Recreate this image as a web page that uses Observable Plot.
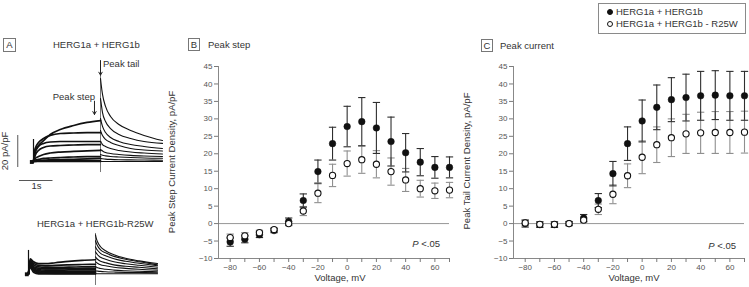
<!DOCTYPE html>
<html><head><meta charset="utf-8">
<script src="https://cdn.jsdelivr.net/npm/d3@7"></script>
<script src="https://cdn.jsdelivr.net/npm/@observablehq/plot@0.6"></script>
<style>
html,body{margin:0;padding:0;background:#fff;}
#c{position:relative;width:749px;height:287px;overflow:hidden;font-family:"Liberation Sans",Arial,sans-serif;color:#333;font-size:9.5px;}
.t{position:absolute;white-space:nowrap;line-height:1;}
.box{position:absolute;border:1px solid #777;box-sizing:border-box;text-align:center;font-size:9.5px;color:#333;}
.p{position:absolute;}
.p svg{overflow:visible;}
</style></head><body><div id="c"></div>
<script>
// ---------- data ----------
const voltages = [-80,-70,-60,-50,-40,-30,-20,-10,0,10,20,30,40,50,60,70];
const stepWT      = [-5.3,-4.5,-3.2,-2.0,0.6,6.6,14.9,22.9,27.8,29.2,27.4,23.5,20.3,17.6,16.1,16.1];
const stepWTerr   = [1.2,1.0,0.8,0.6,1.0,1.9,3.3,4.7,5.8,6.9,7.3,7.0,5.5,3.9,3.1,3.0];
const stepR25W    = [-4.0,-3.5,-2.6,-1.7,0.0,3.6,8.7,13.8,17.2,18.3,17.0,14.9,12.5,10.0,9.4,9.6];
const stepR25Werr = [1.0,0.9,0.7,0.5,0.6,1.3,2.7,3.2,3.6,3.9,3.9,3.9,3.3,2.4,2.2,2.2];
const tailWT      = [0.0,-0.3,-0.3,0.0,1.6,6.6,14.3,22.9,29.4,33.3,35.5,36.1,36.6,36.8,36.6,36.6];
const tailWTerr   = [1.0,0.8,0.8,0.6,1.0,2.0,3.5,4.8,6.0,6.4,6.3,6.7,7.0,7.0,7.0,7.0];
const tailR25W    = [0.2,-0.2,-0.2,0.0,1.0,4.1,8.4,13.7,19.0,22.6,24.6,25.7,26.0,26.1,26.1,26.2];
const tailR25Werr = [0.8,0.7,0.7,0.5,0.6,1.5,2.7,3.4,4.7,5.1,5.4,5.6,5.9,6.0,6.0,6.0];
const yTicks = [-10,-5,0,5,10,15,20,25,30,35,40,45];
const xTicks = [-80,-70,-60,-50,-40,-30,-20,-10,0,10,20,30,40,50,60,70];

// current traces (pA/pF) sampled at these times (s)
const stepTimes = [0, 0.05, 0.15, 0.3, 0.5, 0.8, 1.2, 1.6, 2.0];
const tailTimes = [2.0, 2.02, 2.06, 2.15, 2.3, 2.55, 2.9, 3.3, 3.85];
const wtStep = [
  [0, 7, 10, 13, 16.9, 20, 22.5, 24.4, 25.6],
  [0, 8.1, 11.9, 14.4, 16.3, 17.5, 17.8, 18.1, 18.1],
  [0, 5.6, 9.4, 11.3, 12.2, 12.5, 12.5, 12.5, 12.5],
  [0, 3.8, 6.9, 8.8, 9.7, 10, 10.3, 10.6, 10.6],
  [0, 1.9, 3.1, 4.4, 5.3, 5.9, 6.3, 6.6, 6.9],
  [0, 0.9, 1.3, 1.9, 2.2, 2.5, 2.8, 3.1, 3.1],
  [0, 0.3, 0.5, 0.8, 1, 1.2, 1.4, 1.6, 1.9],
  [0, 0.1, 0.2, 0.3, 0.4, 0.5, 0.6, 0.6, 0.6],
  [0, 0, 0, 0, 0, 0, 0, 0, 0]
];
const wtTail = [
  [51.9, 48.1, 41.9, 34.4, 28.1, 23.1, 19.4, 16.3, 13.1],
  [39.4, 36.3, 30.6, 25, 20.6, 16.9, 14.4, 12.5, 11.3],
  [26.9, 25, 21.9, 18.1, 15, 12.5, 10.6, 9.4, 8.1],
  [19.4, 18.1, 16.3, 13.8, 11.9, 10, 8.1, 7.2, 6.6],
  [12.5, 11.9, 10.6, 9.4, 8.1, 6.9, 5.9, 5.3, 4.7],
  [7.5, 7.2, 6.6, 5.6, 5, 4.4, 3.8, 3.4, 3.1],
  [4.4, 4.2, 3.9, 3.5, 3.1, 2.8, 2.5, 2.2, 2],
  [1.9, 1.8, 1.7, 1.5, 1.3, 1.1, 1, 0.9, 0.8],
  [0, 0, 0, 0, 0, 0, 0, 0, 0]
];
const r25Step = [
  [0, 9.4, 7.5, 6.3, 6.3, 6.9, 7.8, 8.4, 8.8],
  [0, 8.5, 6.5, 5.3, 5.0, 5.3, 5.6, 5.8, 5.9],
  [0, 7.5, 5.5, 4.4, 4.0, 4.0, 4.2, 4.3, 4.4],
  [0, 7, 4.5, 3.5, 3.1, 3.1, 3.2, 3.3, 3.4],
  [0, 6.5, 3.8, 2.7, 2.3, 2.3, 2.4, 2.5, 2.5],
  [0, 6, 3, 2, 1.6, 1.5, 1.6, 1.6, 1.6],
  [0, 5.5, 2.4, 1.3, 1, 0.9, 0.9, 0.9, 0.9],
  [0, 5, 1.8, 0.7, 0.4, 0.3, 0.3, 0.3, 0.3],
  [0, 4, 1, 0, 0, 0, 0, 0, 0]
];
const r25Tail = [
  [24.4, 22.5, 20, 16.9, 14.4, 11.9, 9.7, 8.1, 6.4],
  [20.6, 19.4, 17.5, 15, 13.1, 10.9, 9.1, 7.5, 5.6],
  [16.9, 15.9, 14.7, 12.8, 11.3, 9.4, 7.8, 6.6, 5],
  [13.8, 13.1, 11.9, 10.3, 9.1, 7.5, 6.3, 5.3, 4.1],
  [10.6, 10, 9.1, 7.8, 6.9, 5.6, 4.7, 4.1, 3.1],
  [7.5, 7.2, 6.6, 5.6, 5, 4.1, 3.4, 2.8, 2.2],
  [4.4, 4.2, 3.8, 3.3, 2.8, 2.3, 1.9, 1.6, 1.3],
  [1.9, 1.8, 1.7, 1.5, 1.3, 1.1, 0.9, 0.8, 0.6],
  [0, 0, 0, 0, 0, 0, 0, 0, 0]
];

// ---------- helpers ----------
const C = document.getElementById("c");
const FONT = '"Liberation Sans", Arial, sans-serif';
function txt(html, x, y, {anchor = "start", size = 9.5, rotate = 0, color = "#333"} = {}) {
  const d = document.createElement("div");
  d.className = "t";
  d.innerHTML = html;
  d.style.left = x + "px"; d.style.top = y + "px";
  d.style.fontSize = size + "px"; d.style.color = color;
  const tx = anchor === "start" ? "0" : anchor === "end" ? "-100%" : "-50%";
  d.style.transformOrigin = "0 0";
  d.style.transform = `rotate(${rotate}deg) translate(${tx},-50%)`;
  C.appendChild(d);
}
function box(label, x, y, w, h) {
  const d = document.createElement("div");
  d.className = "box";
  d.textContent = label;
  Object.assign(d.style, {left: x + "px", top: y + "px", width: w + "px", height: h + "px", lineHeight: (h - 2) + "px"});
  C.appendChild(d);
}
function place(svg, x, y) {
  const d = document.createElement("div");
  d.className = "p"; d.style.left = x + "px"; d.style.top = y + "px";
  d.appendChild(svg); C.appendChild(d);
}
function traceRows(steps, tails) {
  const s = [], t = [];
  steps.forEach((arr, i) => arr.forEach((v, j) => s.push({k: i, t: stepTimes[j], v})));
  tails.forEach((arr, i) => arr.forEach((v, j) => t.push({k: i, t: tailTimes[j], v})));
  return {s, t};
}

// ---------- panel A ----------
function tracePlot(steps, tails, {width, height, xDomain, yDomain, extra}) {
  const {s, t} = traceRows(steps, tails);
  return Plot.plot({
    width, height, margin: 0,
    x: {domain: xDomain, axis: null},
    y: {domain: yDomain, axis: null},
    style: {background: "transparent", overflow: "visible"},
    marks: [
      ...extra,
      Plot.line(s, {x: "t", y: "v", z: "k", stroke: "#111", strokeWidth: 1.7, curve: "monotone-x"}),
      Plot.line(t, {x: "t", y: "v", z: "k", stroke: "#111", strokeWidth: 1.1, curve: "monotone-x"})
    ]
  });
}

const aTop = tracePlot(wtStep, wtTail, {
  width: 170, height: 145,
  xDomain: [-33 / 33.5, 137 / 33.5],
  yDomain: [-21.25, 69.375],
  extra: [
    Plot.ruleX([2], {y1: -6.9, y2: 63, stroke: "#555", strokeWidth: 0.8}),
    Plot.ruleX([0], {y1: -1, y2: 13.75, stroke: "#111", strokeWidth: 1.2}),
    Plot.dot([0], {x: d => d - 0.05, y: () => -0.3, symbol: "square", r: 2.2, fill: "#111"}),
    Plot.ruleX([-0.47], {y1: -3.75, y2: 16.25, stroke: "#444", strokeWidth: 0.9}),
    Plot.ruleY([-11.875], {x1: -0.418, x2: 0.582, stroke: "#444", strokeWidth: 0.9}),
    Plot.arrow([{x1: 2, y1: 63, x2: 2, y2: 54}], {x1: "x1", y1: "y1", x2: "x2", y2: "y2", stroke: "#222", strokeWidth: 1, headLength: 5}),
    Plot.arrow([{x1: 1.82, y1: 37.7, x2: 1.82, y2: 29.4}], {x1: "x1", y1: "y1", x2: "x2", y2: "y2", stroke: "#222", strokeWidth: 1, headLength: 5})
  ]
});
place(aTop, 0, 50);

const aBot = tracePlot(r25Step, r25Tail, {
  width: 170, height: 72,
  xDomain: [-28 / 33.5, 142 / 33.5],
  yDomain: [-8.56, 36.44],
  extra: [
    Plot.ruleX([2], {y1: -7.3, y2: 25.2, stroke: "#555", strokeWidth: 0.8}),
    Plot.ruleX([0], {y1: -1, y2: 14.6, stroke: "#111", strokeWidth: 1.2}),
    Plot.dot([0], {x: d => d - 0.05, y: () => -0.3, symbol: "square", r: 2.2, fill: "#111"})
  ]
});
place(aBot, 0, 215);

box("A", 3, 38, 13, 14);
txt("HERG1a + HERG1b", 53, 44.5);
txt("Peak tail", 103, 63.5);
txt("Peak step", 95, 97, {anchor: "end"});
txt("20 pA/pF", 4.5, 151, {anchor: "middle", rotate: -90});
txt("1s", 36.5, 186, {anchor: "middle"});
txt("HERG1a + HERG1b-R25W", 37, 223.5);

// ---------- panels B and C ----------
function ivPlot(wt, wtErr, mt, mtErr, width) {
  const rows = voltages.map((v, i) => ({v, wt: wt[i], we: wtErr[i], mt: mt[i], me: mtErr[i]}));
  const cap = 2.5;
  const bars = (val, err, color) => [
    Plot.ruleX(rows, {x: "v", y1: d => d[val] - d[err], y2: d => d[val] + d[err], stroke: color, strokeWidth: 1.1}),
    Plot.link(rows, {x1: d => d.v - cap, x2: d => d.v + cap, y1: d => d[val] + d[err], y2: d => d[val] + d[err], stroke: color, strokeWidth: 1.1}),
    Plot.link(rows, {x1: d => d.v - cap, x2: d => d.v + cap, y1: d => d[val] - d[err], y2: d => d[val] - d[err], stroke: color, strokeWidth: 1.1})
  ];
  return Plot.plot({
    width, height: 232,
    marginLeft: 68, marginRight: width - 68 - 231, marginTop: 11, marginBottom: 29,
    x: {domain: [-88, 70]},
    y: {domain: [-10, 45]},
    style: {fontFamily: FONT, fontSize: "8px", color: "#555", background: "transparent", overflow: "visible"},
    marks: [
      Plot.ruleY([0], {stroke: "#8a8a8a", strokeWidth: 0.9}),
      Plot.ruleX([-88], {stroke: "#7a7a7a", strokeWidth: 0.9}),
      Plot.ruleY([-10], {stroke: "#7a7a7a", strokeWidth: 0.9}),
      Plot.axisY({ticks: yTicks, tickSize: 4, tickPadding: 2, label: null, stroke: "#7a7a7a", fill: "#555"}),
      Plot.axisX({ticks: xTicks, tickSize: 4, tickPadding: 2, label: null, stroke: "#7a7a7a", fill: "#555",
        tickFormat: d => (d % 20 === 0 ? d3.format("d")(d) : "")}),
      ...bars("mt", "me", "#8f8f8f"),
      ...bars("wt", "we", "#2e2e2e"),
      Plot.dot(rows, {x: "v", y: "wt", r: 3.3, fill: "#111", stroke: "#111", strokeWidth: 0.5}),
      Plot.dot(rows, {x: "v", y: "mt", r: 3.1, fill: "#fff", stroke: "#111", strokeWidth: 1.1})
    ]
  });
}

place(ivPlot(stepWT, stepWTerr, stepR25W, stepR25Werr, 305), 150, 55);
place(ivPlot(tailWT, tailWTerr, tailR25W, tailR25Werr, 300), 445, 55);

box("B", 188, 38, 12, 13);
txt("Peak step", 208, 45);
txt("Peak Step Current Density, pA/pF", 172, 162, {anchor: "middle", rotate: -90});
txt("Voltage, mV", 340, 278, {anchor: "middle"});
txt("<i>P</i> &lt;.05", 440, 243.5, {anchor: "end"});

box("C", 481, 39, 12, 13);
txt("Peak current", 500, 46);
txt("Peak Tail Current Density, pA/pF", 467, 161, {anchor: "middle", rotate: -90});
txt("Voltage, mV", 634, 278, {anchor: "middle"});
txt("<i>P</i> &lt;.05", 736, 245.5, {anchor: "end"});

// ---------- legend ----------
const lg = document.createElement("div");
Object.assign(lg.style, {position: "absolute", left: "598px", top: "3px", width: "148px", height: "31px",
  border: "1px solid #8a8a8a", boxSizing: "border-box"});
C.appendChild(lg);
function ldot(y, filled) {
  const d = document.createElement("div");
  Object.assign(d.style, {position: "absolute", left: "606.8px", top: (y - 3.2) + "px", width: "6.4px", height: "6.4px",
    borderRadius: "50%", boxSizing: "border-box", border: "1.1px solid #111", background: filled ? "#111" : "#fff"});
  C.appendChild(d);
}
ldot(11.7, true); ldot(24.3, false);
txt("HERG1a + HERG1b", 616, 11.7);
txt("HERG1a + HERG1b - R25W", 616, 24.3);
</script></body></html>
